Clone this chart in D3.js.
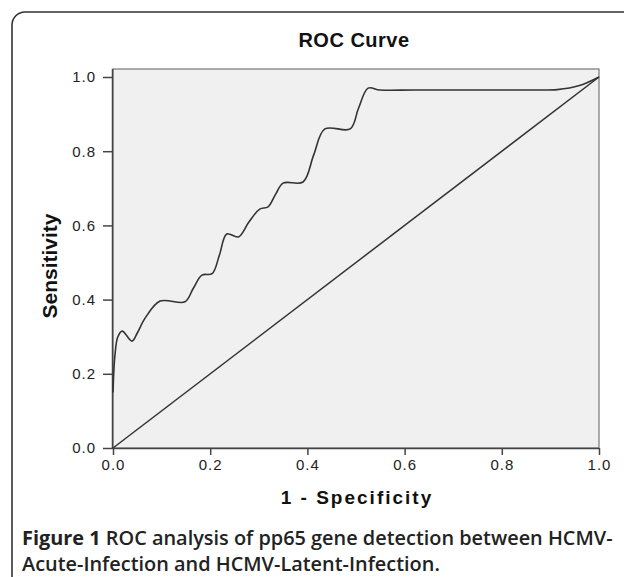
<!DOCTYPE html>
<html>
<head>
<meta charset="utf-8">
<script src="https://cdn.jsdelivr.net/npm/d3@7"></script>
<style>
  body { margin: 0; background: #fff; }
  svg { display: block; }
</style>
</head>
<body>
<svg id="chart" width="624" height="577"></svg>
<script>
// ROC curve points (1 - specificity, sensitivity)
const fpr = [0, 0.004, 0.010, 0.019, 0.039, 0.050, 0.066, 0.097, 0.148, 0.165, 0.183, 0.204,
             0.219, 0.234, 0.258, 0.280, 0.302, 0.319, 0.335, 0.350, 0.391, 0.413, 0.436,
             0.488, 0.505, 0.525, 0.549, 0.62, 0.75, 0.86, 0.914, 0.960, 1.0];
const tpr = [0.15, 0.25, 0.30, 0.315, 0.288, 0.31, 0.35, 0.396, 0.394, 0.43, 0.466, 0.47,
             0.52, 0.577, 0.569, 0.61, 0.644, 0.65, 0.685, 0.714, 0.717, 0.79, 0.86,
             0.86, 0.915, 0.97, 0.965, 0.965, 0.965, 0.965, 0.966, 0.977, 1.0];
const refLine = [0, 1];
const xTicks = [0, 0.2, 0.4, 0.6, 0.8, 1.0];
const yTicks = [0, 0.2, 0.4, 0.6, 0.8, 1.0];

const svg = d3.select("#chart");

// outer rounded frame
svg.append("rect")
    .attr("x", 12).attr("y", 12)
    .attr("width", 640).attr("height", 600)
    .attr("rx", 13)
    .attr("fill", "none")
    .attr("stroke", "#333")
    .attr("stroke-width", 1.6);

const pLeft = 113, pRight = 599, pTop = 69, pBottom = 448;
const x = d3.scaleLinear().domain([0, 1]).range([pLeft, pRight]);
const y = d3.scaleLinear().domain([0, 1]).range([pBottom, 77]);

// plot background
svg.append("rect")
    .attr("x", pLeft).attr("y", pTop)
    .attr("width", pRight - pLeft).attr("height", pBottom - pTop)
    .attr("fill", "#f0f0f0")
    .attr("stroke", "#777")
    .attr("stroke-width", 1.2);

// title
svg.append("text")
    .attr("x", 354).attr("y", 47)
    .attr("text-anchor", "middle")
    .attr("font-family", "Liberation Sans, Arial, sans-serif")
    .attr("font-weight", "bold")
    .attr("font-size", 20)
    .attr("letter-spacing", 0.5)
    .attr("fill", "#111")
    .text("ROC Curve");

// axes
const xAxis = svg.append("g")
    .attr("transform", `translate(0,${pBottom})`)
    .call(d3.axisBottom(x).tickValues(xTicks).tickFormat(d3.format(".1f")).tickSize(7).tickSizeOuter(0));
const yAxis = svg.append("g")
    .attr("transform", `translate(${pLeft},0)`)
    .call(d3.axisLeft(y).tickValues(yTicks).tickFormat(d3.format(".1f")).tickSize(10).tickSizeOuter(0));

[xAxis, yAxis].forEach(g => {
    g.select(".domain").attr("stroke", "#444").attr("stroke-width", 1.5);
    g.selectAll(".tick line").attr("stroke", "#444").attr("stroke-width", 1.5);
    g.selectAll(".tick text")
        .attr("font-family", "Liberation Sans, Arial, sans-serif")
        .attr("font-size", 15)
        .attr("letter-spacing", 1)
        .attr("fill", "#222");
});
xAxis.select(".domain").attr("d", `M${pLeft},0.5H${pRight}`);
yAxis.select(".domain").attr("d", `M-0.5,${pBottom}V${pTop}`);
xAxis.selectAll(".tick text").attr("y", 22).attr("dy", 0);
yAxis.selectAll(".tick text").attr("x", -17);

// axis labels
svg.append("text")
    .attr("x", 357).attr("y", 504)
    .attr("text-anchor", "middle")
    .attr("font-family", "Liberation Sans, Arial, sans-serif")
    .attr("font-weight", "bold")
    .attr("font-size", 19)
    .attr("letter-spacing", 2)
    .attr("fill", "#111")
    .text("1 - Specificity");

svg.append("text")
    .attr("transform", "translate(57,266) rotate(-90)")
    .attr("text-anchor", "middle")
    .attr("font-family", "Liberation Sans Narrow, Arial Narrow, sans-serif")
    .attr("font-weight", "bold")
    .attr("font-size", 21)
    .attr("fill", "#111")
    .text("Sensitivity");

// reference diagonal
svg.append("line")
    .attr("x1", x(refLine[0])).attr("y1", y(refLine[0]))
    .attr("x2", x(refLine[1])).attr("y2", y(refLine[1]))
    .attr("stroke", "#333")
    .attr("stroke-width", 1.5);

// ROC curve
const pts = fpr.map((d, i) => [d, tpr[i]]);
svg.append("path")
    .datum(pts)
    .attr("d", d3.line().x(d => x(d[0])).y(d => y(d[1])).curve(d3.curveCatmullRom.alpha(0.5)))
    .attr("fill", "none")
    .attr("stroke", "#333")
    .attr("stroke-width", 1.6);

// caption
const cap = svg.append("g")
    .attr("font-family", "Open Sans, Noto Sans, sans-serif")
    .attr("font-size", 20)
    .attr("fill", "#222");
const l1 = cap.append("text").attr("x", 22).attr("y", 545);
l1.append("tspan").attr("font-weight", 700).text("Figure 1");
l1.append("tspan").attr("font-weight", 600).text(" ROC analysis of pp65 gene detection between HCMV-");
cap.append("text").attr("x", 22).attr("y", 571)
    .attr("font-weight", 600)
    .text("Acute-Infection and HCMV-Latent-Infection.");
// fit the first caption line to the width it has in the figure
const w1 = l1.node().getComputedTextLength();
cap.attr("font-size", 20 * 591 / w1);
</script>
</body>
</html>
